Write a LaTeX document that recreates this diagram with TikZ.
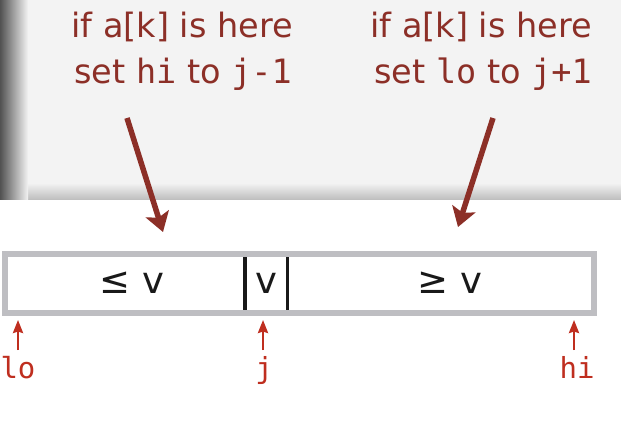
\documentclass[tikz,border=0pt]{standalone}
\usepackage{fontspec}
\setmainfont{DejaVu Sans}
\newfontfamily\monof{DejaVu Sans Mono}
\usetikzlibrary{arrows.meta}
\definecolor{darkred}{HTML}{8C2F27}
\definecolor{brightred}{HTML}{BF2E1F}
\definecolor{panel}{HTML}{F3F3F3}
\definecolor{bargray}{HTML}{BEBEC2}
\tikzset{
  toptext/.style={text=darkred, font=\fontsize{33.5}{46}\selectfont, align=center, inner sep=0pt},
  bigarrow/.style={draw=darkred, line width=5.5pt, -{Stealth[length=19pt,width=24pt,inset=4pt]}},
  smallarrow/.style={draw=brightred, line width=2.4pt, -{Stealth[length=13pt,width=10pt,inset=1.5pt]}},
  idx/.style={text=brightred, font=\monof\fontsize{29}{29}\selectfont, inner sep=0pt},
  bartext/.style={text=black!90, font=\fontsize{37}{37}\selectfont, inner sep=0pt, anchor=base},
  divider/.style={draw=black!90, line width=3.5pt},
}
\begin{document}
\begin{tikzpicture}[x=1pt,y=-1pt]
\useasboundingbox (0,0) rectangle (621,440);
\fill[white] (0,0) rectangle (621,440);
% panel
\fill[panel] (0,0) rectangle (621,199);
\shade[top color=panel, bottom color=black!25] (0,183) rectangle (621,199);
\shade[left color=black!68, right color=panel] (0,0) rectangle (28,199);
% top texts
\node[toptext, anchor=base] (t1) at (182,37) {if a[k] is here};
\node[toptext, anchor=base] (t2) at (183,83) {set {\monof hi} to {\monof j-1}};
\node[toptext, anchor=base] (t3) at (481,37) {if a[k] is here};
\node[toptext, anchor=base] (t4) at (483,83) {set {\monof lo} to {\monof j+1}};
\coordinate (a1s) at (127,118);
\coordinate (a1e) at (163,232);
\coordinate (a2s) at (493,118);
\coordinate (a2e) at (458,227);
\draw[bigarrow] (a1s) -- (a1e);
\draw[bigarrow] (a2s) -- (a2e);
% bar
\draw[draw=bargray, line width=6pt] (4.5,254) rectangle (593.5,313);
\coordinate (d1t) at (245,257); \coordinate (d1b) at (245,310);
\coordinate (d2t) at (287.5,257); \coordinate (d2b) at (287.5,310);
\draw[divider] (d1t) -- (d1b);
\draw[divider] (d2t) -- (d2b);
\node[bartext] (le) at (132,293) {≤ v};
\node[bartext] (vv) at (266.5,293) {v};
\node[bartext] (ge) at (450,293) {≥ v};
% indices
\node[idx, anchor=base] (lo) at (18,378) {lo};
\node[idx, anchor=base] (j) at (264,378) {j};
\node[idx, anchor=base] (hi) at (577,378) {hi};
\coordinate (lot) at (18,320); \coordinate (lob) at (18,350);
\coordinate (jt) at (263,320); \coordinate (jb) at (263,350);
\coordinate (hit) at (574,320); \coordinate (hib) at (574,350);
\draw[smallarrow] (lob) -- (lot);
\draw[smallarrow] (jb) -- (jt);
\draw[smallarrow] (hib) -- (hit);
\end{tikzpicture}
\end{document}
